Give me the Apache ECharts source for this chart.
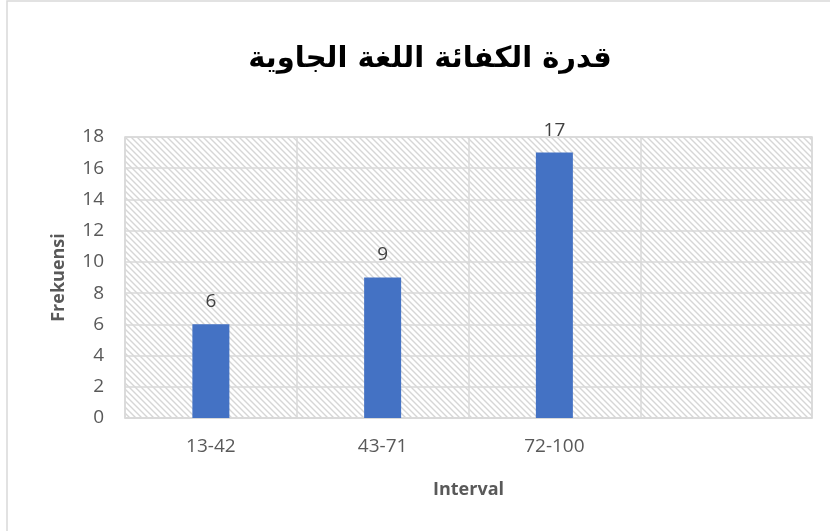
<!DOCTYPE html>
<html>
<head>
<meta charset="utf-8">
<script src="https://cdn.jsdelivr.net/npm/echarts@6/dist/echarts.min.js"></script>
<style>
  html, body { margin: 0; padding: 0; background: #fff; }
  #chart { width: 830px; height: 531px; }
</style>
</head>
<body>
<div id="chart"></div>
<script>
// Frequency table for the Javanese language proficiency scores
const categories = ['13-42', '43-71', '72-100', ''];
const frequencies = [6, 9, 17, null];
const yTicks = { min: 0, max: 18, interval: 2 };
const titleText = 'قدرة الكفائة اللغة الجاوية';
const yName = 'Frekuensi';
const xName = 'Interval';

// Diagonal hatch fill for the plot area
function hatchPattern() {
  const size = 6;
  const c = document.createElement('canvas');
  c.width = size; c.height = size;
  const ctx = c.getContext('2d');
  ctx.strokeStyle = '#d6d6d6';
  ctx.lineWidth = 1.4;
  ctx.beginPath();
  ctx.moveTo(-1, -1); ctx.lineTo(size + 1, size + 1);
  ctx.moveTo(-1, size - 1); ctx.lineTo(1, size + 1);
  ctx.moveTo(size - 1, -1); ctx.lineTo(size + 1, 1);
  ctx.stroke();
  return c;
}

const chart = echarts.init(document.getElementById('chart'), null, { renderer: 'canvas' });
const textGray = '#595959';
const lineGray = '#d9d9d9';

chart.setOption({
  animation: false,
  backgroundColor: '#fff',
  graphic: [{
    type: 'rect',
    shape: { x: 7, y: 1, width: 840, height: 560 },
    style: { fill: 'none', stroke: '#d9d9d9', lineWidth: 1.5 },
    silent: true,
    z: -1
  }],
  title: {
    text: titleText,
    left: 425,
    textAlign: 'center',
    top: 40,
    textStyle: {
      fontFamily: 'DejaVu Sans',
      fontWeight: 'bold',
      fontSize: 29,
      color: '#000'
    }
  },
  grid: {
    left: 125, right: 18, top: 137, bottom: 113,
    show: true,
    backgroundColor: { image: hatchPattern(), repeat: 'repeat' },
    borderColor: lineGray,
    borderWidth: 1.5
  },
  xAxis: {
    type: 'category',
    data: categories,
    name: xName,
    nameLocation: 'middle',
    nameGap: 63,
    nameTextStyle: { fontFamily: 'Open Sans', fontWeight: 'bold', fontSize: 18, color: textGray },
    axisLine: { show: true, lineStyle: { color: lineGray, width: 1.5 } },
    axisTick: { show: false },
    axisLabel: { margin: 19, fontFamily: 'Open Sans', fontSize: 19, color: textGray },
    splitLine: { show: true, lineStyle: { color: lineGray, width: 1.5 } }
  },
  yAxis: {
    type: 'value',
    min: yTicks.min, max: yTicks.max, interval: yTicks.interval,
    name: yName,
    nameLocation: 'middle',
    nameGap: 57,
    nameTextStyle: { fontFamily: 'Open Sans', fontWeight: 'bold', fontSize: 18, color: textGray },
    axisLine: { show: false },
    axisTick: { show: false },
    axisLabel: { margin: 21, fontFamily: 'Open Sans', fontSize: 19, color: textGray },
    splitLine: { show: true, lineStyle: { color: lineGray, width: 1.5 } }
  },
  series: [{
    type: 'bar',
    data: frequencies,
    barWidth: 37,
    itemStyle: { color: '#4472c4' },
    label: {
      show: true,
      position: 'top',
      distance: 13,
      fontFamily: 'Open Sans',
      fontSize: 19,
      color: '#404040'
    }
  }]
});
</script>
</body>
</html>
